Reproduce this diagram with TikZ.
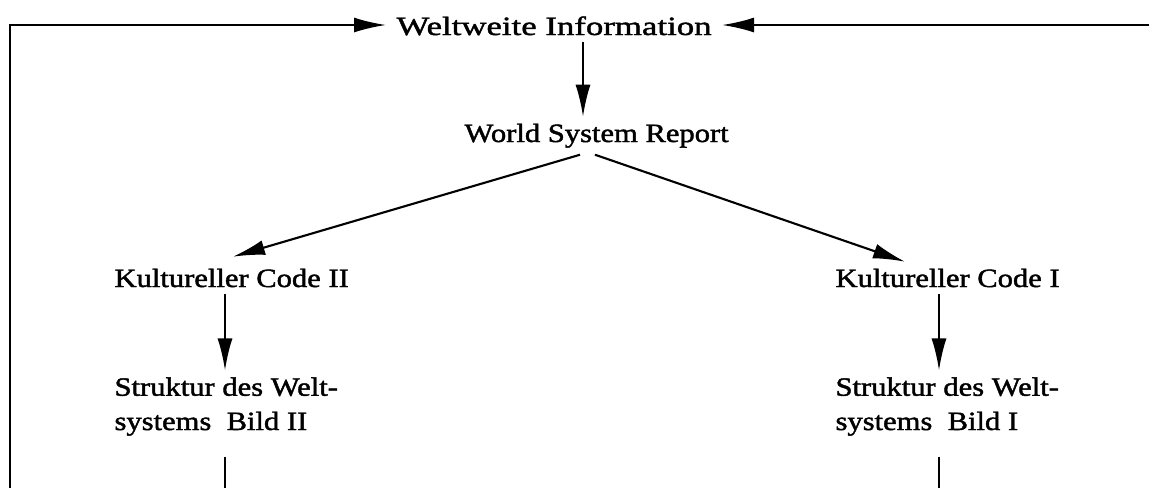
\documentclass[tikz,border=0pt]{standalone}
\usepackage{fontspec}
\setmainfont[FakeStretch=1.16,FakeBold=1.6]{Liberation Serif}
\newfontfamily\infofont[FakeStretch=1.32,FakeBold=1.6]{Liberation Serif}
\usetikzlibrary{arrows.meta}
\usetikzlibrary{calc}
\usetikzlibrary{positioning}
\def\LabelFont{\fontsize{15}{19.5}\selectfont}
\def\TipLength{0.64cm}
\def\TipWidth{0.3cm}
\tikzset{
	lbl/.style={inner sep=0pt,outer xsep=6pt,outer ysep=4pt,font=\LabelFont,align=left,anchor=base west},
	link/.style={line width=1.2pt},
	flow/.style={link,-{Latex[length=\TipLength,width=\TipWidth]}},
}

\begin{document}
\begin{tikzpicture}[x=0.02cm,y=-0.02cm]
			\useasboundingbox (0,0) rectangle (1149,488);
			\node[lbl,font=\LabelFont\infofont] (info) at (386,35) {Weltweite Information};
			\node[lbl] (report) at (454,142) {World System Report};
			\node[lbl] (codeII) at (104,287) {Kultureller Code II};
			\node[lbl] (codeI) at (825,287) {Kultureller Code I};
			% base is the last line here
			\node[lbl] (bildII) at (104,430) {Struktur des Welt-\\systems~ Bild II};
			\node[lbl] (bildI) at (825,430) {Struktur des Welt-\\systems~ Bild I};
			% 
			\coordinate (topL) at (10,25);
			\coordinate (topR) at (1149,25);
			\coordinate (botL) at (10,488);
			\coordinate (botR) at (1149,488);
			\coordinate (colInfo) at (583,0);
			\coordinate (colII) at (225,0);
			\coordinate (colI) at (939,0);
			\coordinate (outII) at (580,0);
			\coordinate (outI) at (595,0);
			\coordinate (inII) at (233,0);
			\coordinate (inI) at (905,0);
			% 
			\draw[flow] (botL) -- (topL) -- (info.west |- topL);
			\draw[flow] (topR) -- (info.east |- topR);
			\draw[flow] (info.south -| colInfo) -- (report.north -| colInfo);
			\draw[flow] (report.south -| outII) -- ($(codeII.north -| inII)+(0,-5)$);
			\draw[flow] (report.south -| outI) -- (codeI.north -| inI);
			\draw[flow] (codeII.south -| colII) -- (bildII.north -| colII);
			\draw[flow] (codeI.south -| colI) -- (bildI.north -| colI);
			\draw[link,shorten <=0.28cm] (bildII.south -| colII) -- (colII |- botL);
			\draw[link,shorten <=0.28cm] (bildI.south -| colI) -- (colI |- botR);
		\end{tikzpicture}
\end{document}
